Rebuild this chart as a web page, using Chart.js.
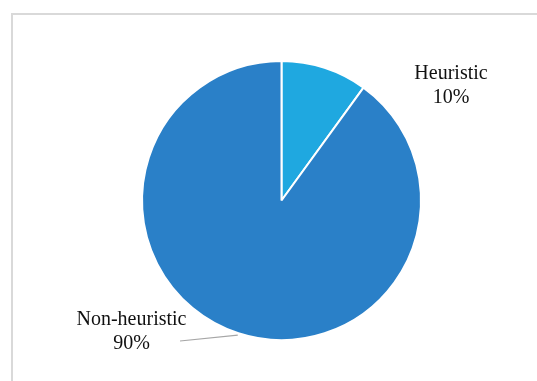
<!DOCTYPE html>
<html>
<head>
<meta charset="utf-8">
<script src="https://cdn.jsdelivr.net/npm/chart.js@4"></script>
<style>
  body { margin: 0; background: #fff; overflow: hidden; }
  #frame { position: absolute; left: 11px; top: 13px; width: 600px; height: 420px; border: 2px solid #d9d9d9; }
  #myChart { position: absolute; left: 0; top: 0; }
</style>
</head>
<body>
<div id="frame"></div>
<canvas id="myChart" width="537" height="381"></canvas>
<script>
const categories = ['Heuristic', 'Non-heuristic'];
const shares = [10, 90];
const sliceColors = ['#1fa8e0', '#2a80c8'];

// label text drawn next to the pie, with a leader line for the big slice
const labelPlugin = {
    id: 'sliceLabels',
    afterDraw(chart) {
        const ctx = chart.ctx;
        const arcs = chart.getDatasetMeta(0).data;
        ctx.save();
        ctx.font = '20px "Liberation Serif", "Times New Roman", serif';
        ctx.fillStyle = '#111';
        ctx.textAlign = 'center';
        ctx.textBaseline = 'alphabetic';

        // Heuristic
        ctx.fillText(categories[0], 451, 78.5);
        ctx.fillText(shares[0] + '%', 451, 103);

        // Non-heuristic
        ctx.fillText(categories[1], 131.5, 325);
        ctx.fillText(shares[1] + '%', 131.5, 349);

        // leader line from label to the middle of the big slice
        const arc = arcs[1];
        const mid = (arc.startAngle + arc.endAngle) / 2;
        const r = arc.outerRadius + 2;
        ctx.strokeStyle = '#a6a6a6';
        ctx.lineWidth = 1.2;
        ctx.beginPath();
        ctx.moveTo(180, 341);
        ctx.lineTo(arc.x + Math.cos(mid) * r, arc.y + Math.sin(mid) * r);
        ctx.stroke();
        ctx.restore();
    }
};

window.addEventListener('load', setup);

function setup() {
    const ctx = document.getElementById('myChart').getContext('2d');
    new Chart(ctx, {
        type: 'pie',
        data: {
            labels: categories,
            datasets: [{
                data: shares,
                backgroundColor: sliceColors,
                borderColor: '#ffffff',
                borderWidth: 2
            }]
        },
        options: {
            responsive: false,
            animation: false,
            layout: { padding: { left: 141, right: 115, top: 60, bottom: 40 } },
            plugins: {
                legend: { display: false },
                tooltip: { enabled: false }
            }
        },
        plugins: [labelPlugin]
    });
}
</script>
</body>
</html>
